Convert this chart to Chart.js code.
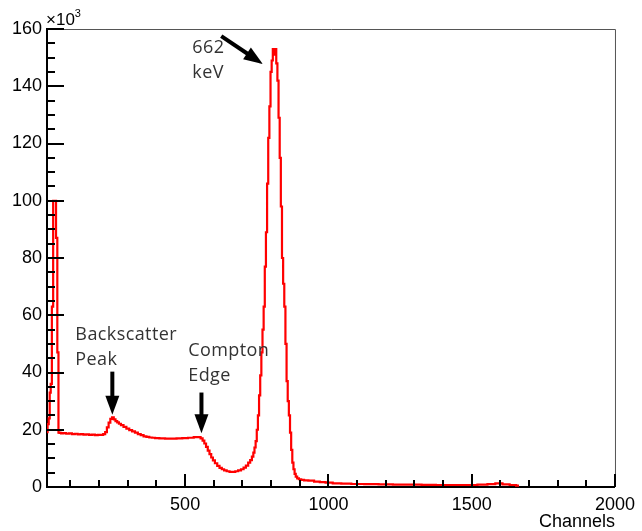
<!DOCTYPE html>
<html>
<head>
<meta charset="utf-8">
<script src="https://cdn.jsdelivr.net/npm/chart.js@4/dist/chart.umd.min.js"></script>
<style>
  html, body { margin: 0; padding: 0; background: #fff; }
  #wrap { width: 642px; height: 531px; position: relative; }
</style>
</head>
<body>
<div id="wrap"><canvas id="spec" width="642" height="531"></canvas></div>
<script>
// Cs-137 gamma spectrum: channel number vs counts (in units of 10^3)
const channels = [
  18, 22, 26, 29, 33, 37, 42, 47, 52, 56, 60,
  64, 70, 80, 90, 100, 110, 120, 130, 140, 150, 160, 170, 180, 190, 200, 210, 218,
  224, 230, 236, 242, 248, 254, 260, 266, 272, 280, 290, 300, 310, 320, 330, 340, 350,
  360, 370, 380, 390, 400, 420, 440, 460, 480, 500, 520, 540, 550, 558,
  564, 570, 576, 582, 588, 594, 600, 608, 616, 624, 632, 640, 650, 660, 670, 680,
  690, 700, 708, 716, 724, 730, 736, 740, 744,
  748, 752, 756, 760, 764, 768, 772, 776, 780, 784, 788, 792, 796, 800, 804, 808,
  812, 816, 820, 824, 828, 832, 836, 840, 844, 848, 852, 856, 860, 864, 868, 872,
  876, 880, 884, 888, 894, 900, 910, 920, 940, 960, 980, 1000, 1030, 1060, 1100,
  1150, 1200, 1250, 1300, 1350, 1400, 1450, 1500, 1540, 1570, 1595, 1620, 1645, 1665
];
const counts = [
  19.2, 22, 24, 33, 36, 63, 100, 100, 87, 47, 19,
  18.9, 18.7, 18.8, 18.6, 18.7, 18.5, 18.6, 18.4, 18.5, 18.3, 18.4, 18.2, 18.3, 18.1, 18.2, 18.2, 18.5,
  19.2, 20.8, 22.5, 23.8, 24.3, 23.6, 23.0, 22.6, 22.1, 21.6, 21.0, 20.4, 19.9, 19.4, 19.0, 18.5, 18.1,
  17.7, 17.5, 17.3, 17.2, 17.1, 17.0, 16.9, 16.9, 17.0, 17.1, 17.2, 17.4, 17.4, 17.0,
  16.2, 15.2, 14.0, 12.7, 11.5, 10.3, 9.3, 8.3, 7.4, 6.7, 6.2, 5.8, 5.5, 5.3, 5.3, 5.5,
  5.8, 6.2, 6.8, 7.5, 8.5, 9.4, 10.6, 12.0, 13.8,
  16, 20, 25, 32, 39, 47, 55, 63, 77, 89, 106, 122, 133, 145, 149, 153,
  151, 153, 148, 142, 129, 115, 98, 80, 71, 63, 50, 37, 30, 25, 19, 13,
  8.5, 6.2, 4.6, 3.6, 3.0, 2.7, 2.5, 2.3, 2.2, 1.9, 1.7, 1.5, 1.3, 1.2, 1.05,
  1.0, 0.9, 0.85, 0.8, 0.75, 0.7, 0.7, 0.7, 0.8, 1.0, 1.3, 0.9, 0.7, 0.5
];

// Axis tick values
const xMajorTicks = [500, 1000, 1500, 2000];
const xMinorTicks = [100, 200, 300, 400, 600, 700, 800, 900, 1100, 1200, 1300, 1400, 1600, 1700, 1800, 1900];
const yMajorTicks = [0, 20, 40, 60, 80, 100, 120, 140, 160];
const yMinorTicks = [5, 10, 15, 25, 30, 35, 45, 50, 55, 65, 70, 75, 85, 90, 95, 105, 110, 115, 125, 130, 135, 145, 150, 155];

// Hand-written notes and arrows (in channel / kilo-count units)
const noteLabels = [
  { lines: ['662', 'keV'], ch: 525, val: 151.5 },
  { lines: ['Backscatter', 'Peak'], ch: 117, val: 51.3 },
  { lines: ['Compton', 'Edge'], ch: 511, val: 45.6 }
];
const noteArrows = [
  { from: [626, 157.5], to: [771, 147.8] },
  { from: [246, 40.3], to: [246, 25.2] },
  { from: [557, 33.0], to: [557, 18.8] }
];

const points = channels.map((c, i) => ({ x: c, y: counts[i] }));

function drawArrow(ctx, x1, y1, x2, y2) {
  const headLen = 19, headHalf = 7;
  const dx = x2 - x1, dy = y2 - y1;
  const len = Math.hypot(dx, dy);
  const ux = dx / len, uy = dy / len;
  const bx = x2 - ux * headLen, by = y2 - uy * headLen;
  ctx.beginPath();
  ctx.moveTo(x1, y1);
  ctx.lineTo(bx + ux * 2, by + uy * 2);
  ctx.lineWidth = 4;
  ctx.lineCap = 'butt';
  ctx.stroke();
  ctx.beginPath();
  ctx.moveTo(x2, y2);
  ctx.lineTo(bx - uy * headHalf, by + ux * headHalf);
  ctx.lineTo(bx + uy * headHalf, by - ux * headHalf);
  ctx.closePath();
  ctx.fill();
}

const framePlugin = {
  id: 'framePlugin',
  afterDraw(chart) {
    const { ctx, chartArea: a } = chart;
    const xs = chart.scales.x, ys = chart.scales.y;
    ctx.save();
    // upper and right frame lines
    ctx.strokeStyle = '#555';
    ctx.lineWidth = 1;
    ctx.beginPath();
    ctx.moveTo(a.left, a.top + 0.5);
    ctx.lineTo(a.right + 0.5, a.top + 0.5);
    ctx.lineTo(a.right + 0.5, a.bottom);
    ctx.stroke();

    // inward tick marks
    ctx.strokeStyle = '#000';
    ctx.lineWidth = 2;
    ctx.beginPath();
    yMajorTicks.forEach(v => {
      const py = Math.round(ys.getPixelForValue(v));
      ctx.moveTo(a.left, py); ctx.lineTo(a.left + 17, py);
    });
    yMinorTicks.forEach(v => {
      const py = Math.round(ys.getPixelForValue(v));
      ctx.moveTo(a.left, py); ctx.lineTo(a.left + 8, py);
    });
    xMajorTicks.forEach(v => {
      const px = Math.round(xs.getPixelForValue(v));
      ctx.moveTo(px, a.bottom); ctx.lineTo(px, a.bottom - 13);
    });
    xMinorTicks.forEach(v => {
      const px = Math.round(xs.getPixelForValue(v));
      ctx.moveTo(px, a.bottom); ctx.lineTo(px, a.bottom - 7);
    });
    ctx.stroke();

    // exponent of the count axis
    ctx.fillStyle = '#000';
    ctx.textAlign = 'left';
    ctx.textBaseline = 'alphabetic';
    ctx.font = '17px "Liberation Sans", Arial, sans-serif';
    ctx.fillText('\u00d710', a.left - 1, 25);
    const w = ctx.measureText('\u00d710').width;
    ctx.font = '11px "Liberation Sans", Arial, sans-serif';
    ctx.fillText('3', a.left - 1 + w, 17);

    // notes
    ctx.fillStyle = '#333';
    ctx.font = '18px "Open Sans", sans-serif';
    if ('letterSpacing' in ctx) ctx.letterSpacing = '0.4px';
    noteLabels.forEach(n => {
      const px = xs.getPixelForValue(n.ch);
      const py = ys.getPixelForValue(n.val);
      n.lines.forEach((t, i) => ctx.fillText(t, px, py + i * 25));
    });
    if ('letterSpacing' in ctx) ctx.letterSpacing = '0px';

    // arrows
    ctx.strokeStyle = '#000';
    ctx.fillStyle = '#000';
    noteArrows.forEach(ar => {
      drawArrow(ctx,
        xs.getPixelForValue(ar.from[0]), ys.getPixelForValue(ar.from[1]),
        xs.getPixelForValue(ar.to[0]), ys.getPixelForValue(ar.to[1]));
    });
    ctx.restore();
  }
};

new Chart(document.getElementById('spec'), {
  type: 'line',
  data: {
    datasets: [{
      data: points,
      borderColor: '#ff0000',
      borderWidth: 2.2,
      pointRadius: 0,
      stepped: 'middle',
      fill: false
    }]
  },
  options: {
    responsive: false,
    animation: false,
    events: [],
    layout: { padding: { top: 29, right: 21, left: 0, bottom: 0 } },
    plugins: { legend: { display: false }, tooltip: { enabled: false } },
    scales: {
      x: {
        type: 'linear',
        min: 18,
        max: 2000,
        afterFit(scale) { scale.height = 44; },
        afterBuildTicks(scale) { scale.ticks = xMajorTicks.map(v => ({ value: v })); },
        grid: { display: false, drawTicks: false },
        border: { display: true, color: '#000', width: 2 },
        ticks: {
          padding: 7,
          color: '#000',
          maxRotation: 0,
          autoSkip: false,
          callback: v => String(v),
          font: { family: '"Liberation Sans", Arial, sans-serif', size: 18 }
        },
        title: {
          display: true,
          text: 'Channels',
          align: 'end',
          color: '#000',
          padding: { top: 0, bottom: -2 },
          font: { family: '"Liberation Sans", Arial, sans-serif', size: 18 }
        }
      },
      y: {
        type: 'linear',
        min: 0,
        max: 160,
        afterFit(scale) { scale.width = 47; },
        afterBuildTicks(scale) { scale.ticks = yMajorTicks.map(v => ({ value: v })); },
        grid: { display: false, drawTicks: false },
        border: { display: true, color: '#000', width: 2 },
        ticks: {
          padding: 5,
          color: '#000',
          autoSkip: false,
          callback: v => String(v),
          font: { family: '"Liberation Sans", Arial, sans-serif', size: 18 }
        }
      }
    }
  },
  plugins: [framePlugin]
});
</script>
</body>
</html>
